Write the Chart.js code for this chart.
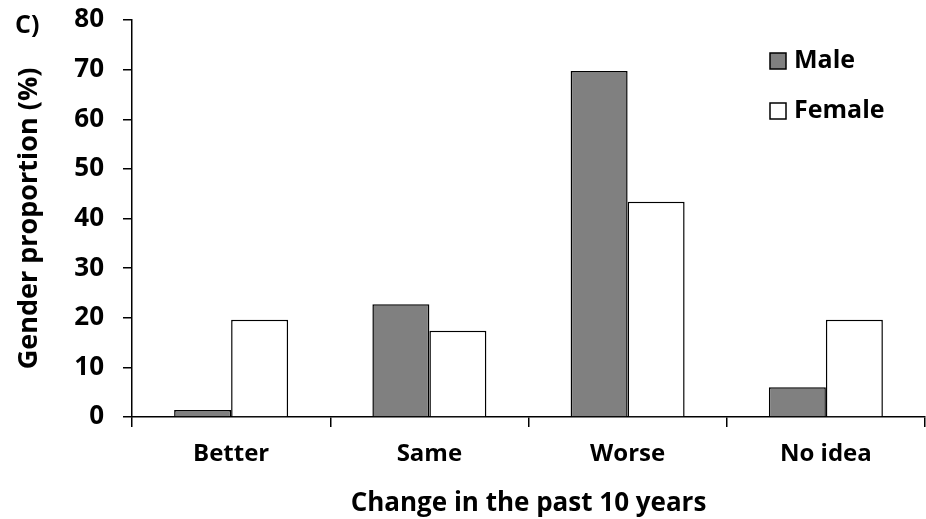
<!DOCTYPE html>
<html>
<head>
<meta charset="utf-8">
<script src="https://cdn.jsdelivr.net/npm/chart.js@4"></script>
<style>
  body { margin: 0; background: #fff; }
  #wrap { position: relative; width: 926px; height: 519px; }
</style>
</head>
<body>
<div id="wrap"><canvas id="chart"></canvas></div>
<script>
const categories = ['Better', 'Same', 'Worse', 'No idea'];
const maleValues = [1.4, 22.7, 69.7, 6.0];
const femaleValues = [19.6, 17.4, 43.4, 19.6];
const yTicks = [0, 10, 20, 30, 40, 50, 60, 70, 80];

const FONT = "'Open Sans', sans-serif";

// panel letter + legend drawn in the top corner
const extras = {
    id: 'extras',
    afterDraw(chart) {
        const ctx = chart.ctx;
        ctx.save();
        ctx.font = 'bold 25px ' + FONT;
        ctx.fillStyle = '#000';
        ctx.textBaseline = 'middle';
        ctx.textAlign = 'left';
        ctx.fillText('C)', 15, 26);

        chart.data.datasets.forEach((ds, i) => {
            const y = 53 + i * 50;
            ctx.fillStyle = ds.backgroundColor;
            ctx.fillRect(770, y, 16, 16);
            ctx.strokeStyle = '#000';
            ctx.lineWidth = 1.5;
            ctx.strokeRect(770, y, 16, 16);
            ctx.fillStyle = '#000';
            ctx.fillText(ds.label, 794, y + 8);
        });
        ctx.restore();
    }
};

new Chart(document.querySelector('#chart').getContext('2d'), {
    type: 'bar',
    data: {
        labels: categories,
        datasets: [{
            label: 'Male',
            data: maleValues,
            backgroundColor: '#808080',
            borderColor: '#000',
            borderWidth: 1.5,
            categoryPercentage: 0.575,
            barPercentage: 1.0
        }, {
            label: 'Female',
            data: femaleValues,
            backgroundColor: '#ffffff',
            borderColor: '#000',
            borderWidth: 1.5,
            categoryPercentage: 0.575,
            barPercentage: 1.0
        }]
    },
    options: {
        responsive: true,
        maintainAspectRatio: false,
        animation: false,
        layout: { padding: { top: 20, right: 1, left: 0, bottom: 0 } },
        plugins: {
            legend: { display: false },
            tooltip: { enabled: false }
        },
        scales: {
            x: {
                grid: { display: true, drawOnChartArea: false, drawTicks: true, tickLength: 10, color: '#000', lineWidth: 1.5, offset: true },
                border: { display: true, color: '#000', width: 1.5 },
                ticks: { color: '#000', font: { family: FONT, size: 24, weight: 'bold' }, padding: 13, maxRotation: 0 },
                title: { display: true, text: 'Change in the past 10 years', color: '#000', font: { family: FONT, size: 26, weight: 'bold' }, padding: { top: 2, bottom: 0 } },
                afterFit(scale) { scale.height = 102; }
            },
            y: {
                min: 0,
                max: 80,
                afterBuildTicks(scale) { scale.ticks = yTicks.map(v => ({ value: v })); },
                grid: { display: true, drawOnChartArea: false, drawTicks: true, tickLength: 9, color: '#000', lineWidth: 1.5 },
                border: { display: true, color: '#000', width: 1.5 },
                ticks: { color: '#000', font: { family: FONT, size: 26, weight: 'bold' }, padding: 19 },
                title: { display: true, text: 'Gender proportion (%)', color: '#000', font: { family: FONT, size: 27, weight: 'bold' }, padding: { top: 13, bottom: 0 } },
                afterFit(scale) { scale.width = 132; scale.paddingTop = 0; scale.paddingBottom = 0; }
            }
        }
    },
    plugins: [extras]
});
</script>
</body>
</html>
